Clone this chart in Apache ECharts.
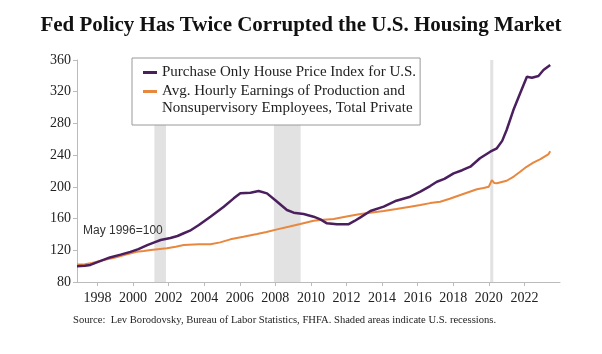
<!DOCTYPE html>
<html>
<head>
<meta charset="utf-8">
<title>Fed Policy Has Twice Corrupted the U.S. Housing Market</title>
<style>
  body, html { margin: 0; padding: 0; background: #fff; }
</style>
</head>
<body>
<div id="chart" style="width: 602px; height: 354px"></div>
<script src="https://cdn.jsdelivr.net/npm/echarts@6/dist/echarts.min.js"></script>
<script>
// house price index, May 1996 = 100 (year, value)
var hpiYears = [1996.85, 1997.3, 1997.6, 1998.0, 1998.7, 1999.3, 1999.85, 2000.3, 2000.8, 2001.2,
  2001.55, 2002.1, 2002.5, 2002.85, 2003.2, 2003.7, 2004.35, 2005.1, 2005.66, 2006.03,
  2006.6, 2007.06, 2007.53, 2008.1, 2008.65, 2009.03, 2009.59, 2010.15, 2010.53, 2010.9,
  2011.46, 2012.1, 2012.45, 2012.78, 2013.34, 2014.09, 2014.8, 2015.58, 2016.15, 2016.7,
  2017.08, 2017.5, 2018.02, 2018.5, 2018.96, 2019.5, 2020.08, 2020.45, 2020.75, 2021.0,
  2021.38, 2021.76, 2022.14, 2022.42, 2022.79, 2023.07, 2023.45];
var hpiValues = [100, 100.5, 101.5, 105, 111, 114.5, 118, 121.5, 126.5, 130,
  133, 135.5, 138, 141.5, 144.7, 151.9, 162.4, 175, 185.5, 191.8,
  192.6, 194.8, 191.8, 181.3, 170.8, 167.4, 165.7, 162.4, 159, 154,
  152.8, 152.8, 157, 161.5, 169.5, 175, 182.5, 187.6, 194, 201,
  206.5, 210, 217, 221, 225.4, 236, 244.3, 248.6, 258, 271.7,
  296.9, 318, 338.9, 337.6, 339.8, 347.3, 353.6];

// avg hourly earnings, production & nonsupervisory, May 1996 = 100
var wageYears = [1996.85, 1997.3, 1997.7, 1998.35, 1999.0, 1999.6, 2000.2, 2000.6, 2001.0, 2001.9,
  2002.4, 2002.85, 2003.7, 2004.35, 2004.9, 2005.47, 2006.2, 2006.97, 2007.5, 2008.1,
  2008.8, 2009.4, 2010.15, 2010.53, 2011.28, 2012.0, 2012.78, 2014.09, 2014.8, 2015.58,
  2016.15, 2016.7, 2017.27, 2017.8, 2018.4, 2019.33, 2019.7, 2020.0, 2020.17, 2020.3,
  2020.45, 2021.0, 2021.4, 2021.76, 2022.1, 2022.5, 2022.9, 2023.36, 2023.45];
var wageValues = [102, 102.5, 104, 107.7, 111, 114.5, 118.2, 119, 120.4, 122.5,
  124.5, 126.7, 127.5, 127.5, 130, 133.8, 137, 140.5, 143, 146.4,
  150, 153.1, 157.3, 158.2, 159.5, 162.5, 165.7, 169.5, 172, 175,
  177, 179.5, 181.3, 185, 189.7, 196.9, 198.5, 200.2, 208.6, 205,
  204.5, 207.7, 213, 219, 225, 230.5, 235, 241.4, 245];

var recessionStart = [2001.2, 2007.92, 2020.08];
var recessionEnd = [2001.85, 2009.42, 2020.25];

var yearTicks = [1998, 2000, 2002, 2004, 2006, 2008, 2010, 2012, 2014, 2016, 2018, 2020, 2022];

var hpiName = 'Purchase Only House Price Index for U.S.';
var wageName = 'Avg. Hourly Earnings of Production and';

function pairs(xs, ys) {
  return xs.map(function (x, i) { return [x, ys[i]]; });
}

var chart = echarts.init(document.getElementById('chart'));
var serif = '"Liberation Serif", "DejaVu Serif", serif';

chart.setOption({
  animation: false,
  backgroundColor: '#fff',
  title: {
    text: 'Fed Policy Has Twice Corrupted the U.S. Housing Market',
    left: 'center',
    top: 10,
    textStyle: { fontFamily: serif, fontWeight: 'bold', fontSize: 21, color: '#111' }
  },
  legend: {
    orient: 'vertical',
    left: 132,
    top: 58,
    padding: [5, 4, 24, 11],
    itemGap: 0,
    itemWidth: 14,
    itemHeight: 3,
    icon: 'rect',
    backgroundColor: '#fff',
    borderColor: '#999',
    borderWidth: 1,
    z: 10,
    textStyle: { fontFamily: serif, fontSize: 15, color: '#222', lineHeight: 19 },
    data: [hpiName, wageName]
  },
  graphic: [
    {
      type: 'text',
      left: 162,
      top: 101,
      z: 100,
      style: { text: 'Nonsupervisory Employees, Total Private', font: '15px ' + serif, fill: '#222' }
    },
    {
      type: 'text',
      left: 83,
      top: 225,
      z: 100,
      style: { text: 'May 1996=100', font: '12px "Liberation Sans", Arial, sans-serif', fill: '#333' }
    },
    {
      type: 'text',
      left: 73,
      top: 315,
      z: 100,
      style: {
        text: 'Source:  Lev Borodovsky, Bureau of Labor Statistics, FHFA. Shaded areas indicate U.S. recessions.',
        font: '10.6px ' + serif, fill: '#222'
      }
    }
  ],
  grid: { left: 77, right: 42, top: 60, bottom: 72 },
  xAxis: {
    type: 'value',
    min: 1996.85,
    max: 2024.0,
    splitLine: { show: false },
    axisLine: { show: true, lineStyle: { color: '#bbb', width: 1 } },
    axisTick: { show: true, length: 4, customValues: yearTicks, lineStyle: { color: '#bbb' } },
    axisLabel: {
      customValues: yearTicks,
      margin: 9,
      fontFamily: serif,
      fontSize: 14,
      color: '#222',
      formatter: function (v) { return String(Math.round(v)); }
    }
  },
  yAxis: {
    type: 'value',
    min: 80,
    max: 360,
    interval: 40,
    splitLine: { show: false },
    axisLine: { show: true, lineStyle: { color: '#bbb', width: 1 } },
    axisTick: { show: true, length: 4, lineStyle: { color: '#bbb' } },
    axisLabel: { margin: 6, fontFamily: serif, fontSize: 14, color: '#222' }
  },
  series: [
    {
      name: wageName,
      type: 'line',
      data: pairs(wageYears, wageValues),
      showSymbol: false,
      color: '#E8873E',
      lineStyle: { width: 2, color: '#E8873E' },
      markArea: {
        silent: true,
        itemStyle: { color: '#e2e2e2' },
        data: recessionStart.map(function (s, i) {
          return [{ xAxis: s }, { xAxis: recessionEnd[i] }];
        })
      },
      z: 2
    },
    {
      name: hpiName,
      type: 'line',
      data: pairs(hpiYears, hpiValues),
      showSymbol: false,
      color: '#4B1F5E',
      lineStyle: { width: 2.5, color: '#4B1F5E' },
      z: 3
    }
  ]
});
</script>
</body>
</html>
